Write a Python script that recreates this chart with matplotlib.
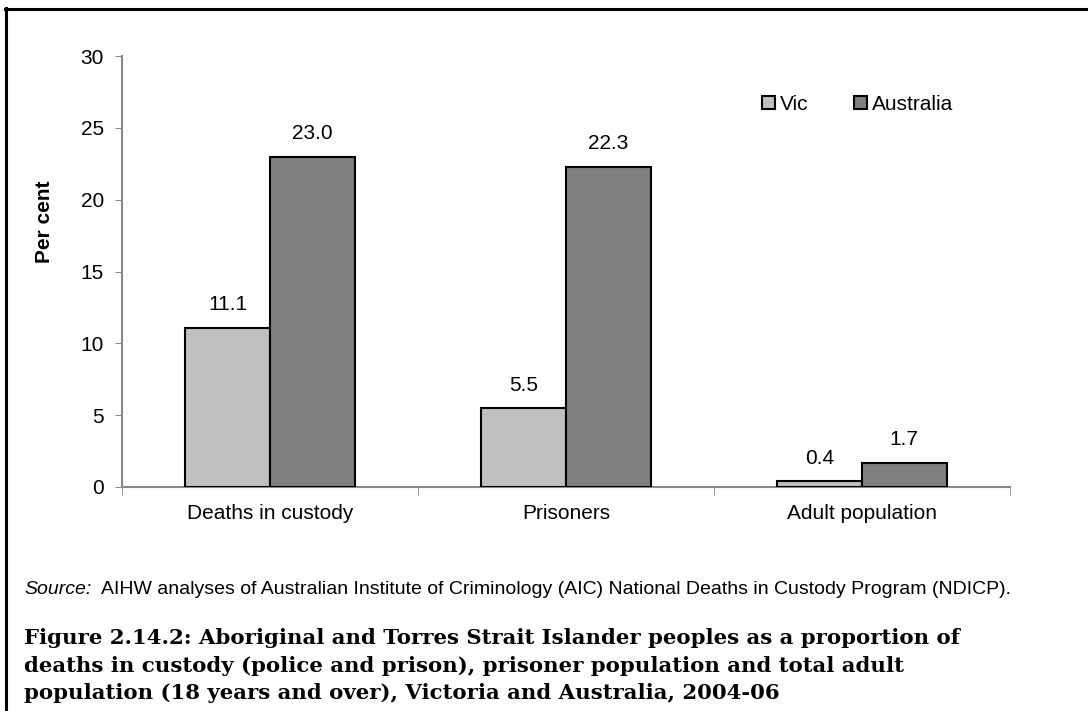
import numpy as np
import matplotlib
matplotlib.use("Agg")
import matplotlib.pyplot as plt
from matplotlib.patches import Patch
from matplotlib.lines import Line2D

plt.rcParams['font.family'] = ['Liberation Sans', 'DejaVu Sans']

categories = ["Deaths in custody", "Prisoners", "Adult population"]
vic = [11.1, 5.5, 0.4]
australia = [23.0, 22.3, 1.7]
series_names = ["Vic", "Australia"]
colors = ["#c0c0c0", "#808080"]

source_text = "AIHW analyses of Australian Institute of Criminology (AIC) National Deaths in Custody Program (NDICP)."
title_lines = [
    "Figure 2.14.2: Aboriginal and Torres Strait Islander peoples as a proportion of",
    "deaths in custody (police and prison), prisoner population and total adult",
    "population (18 years and over), Victoria and Australia, 2004-06",
]

W, H = 1088, 711
fig = plt.figure(figsize=(W / 100, H / 100), dpi=100)
ax = fig.add_axes([122 / W, 1 - 487 / H, (1010 - 122) / W, (487 - 56) / H])

fs = 15
x = np.arange(len(categories))
bw = 1 / 3.5
for i, (vals, col) in enumerate(zip([vic, australia], colors)):
    pos = x + (i - 0.5) * bw
    ax.bar(pos, vals, width=bw, color=col, edgecolor="black", linewidth=1.5,
           label=series_names[i], zorder=3)
    for p, v in zip(pos, vals):
        ax.annotate(f"{v:.1f}", (p, v), xytext=(0, 16.5), textcoords="offset points",
                    ha="center", va="center", fontsize=fs)

ax.set_xlim(-0.5, len(categories) - 0.5)
ax.set_ylim(0, 30)
ax.set_yticks(np.arange(0, 31, 5))
ax.tick_params(axis="y", labelsize=fs, length=5, color="#888888", pad=8)
ax.set_xticks(x)
ax.set_xticklabels(categories, fontsize=fs)
ax.tick_params(axis="x", length=0, pad=12)
# category boundary ticks
ax.set_xticks(np.arange(-0.5, len(categories), 1), minor=True)
ax.tick_params(axis="x", which="minor", length=6, color="#888888")
for s in ["top", "right"]:
    ax.spines[s].set_visible(False)
for s in ["left", "bottom"]:
    ax.spines[s].set_color("#888888")
    ax.spines[s].set_linewidth(1.5)
fig.text(45 / W, 1 - 222 / H, "Per cent", fontsize=fs, fontweight="bold",
         rotation=90, ha="center", va="center")

handles = [Patch(facecolor=c, edgecolor="black", linewidth=1.5) for c in colors]
fig.legend(handles, series_names, loc="center left", bbox_to_anchor=(752 / W, 1 - 104 / H),
           ncol=2, frameon=False, fontsize=fs, handlelength=0.6, handleheight=0.6,
           handletextpad=0.25, columnspacing=2.2, borderpad=0)

src = fig.text(24 / W, 1 - 589 / H, "Source:", fontsize=14, style="italic", va="center")
ax.annotate(source_text, xy=(1, 0.5), xycoords=src, xytext=(7, 0), textcoords="offset points",
            fontsize=14, va="center", annotation_clip=False)
for k, line in enumerate(title_lines):
    fig.text(24 / W, 1 - (638 + 27.5 * k) / H, line, fontsize=15.3, fontweight="bold",
             family="DejaVu Serif", va="center")

# frame lines (top and left edge of the boxed figure)
fig.add_artist(Line2D([5 / W, 1], [1 - 8.5 / H, 1 - 8.5 / H], color="black", linewidth=2.2))
fig.add_artist(Line2D([5.5 / W, 5.5 / W], [1 - 8 / H, 0], color="black", linewidth=2.2))

fig.savefig("out.png", dpi=100)
